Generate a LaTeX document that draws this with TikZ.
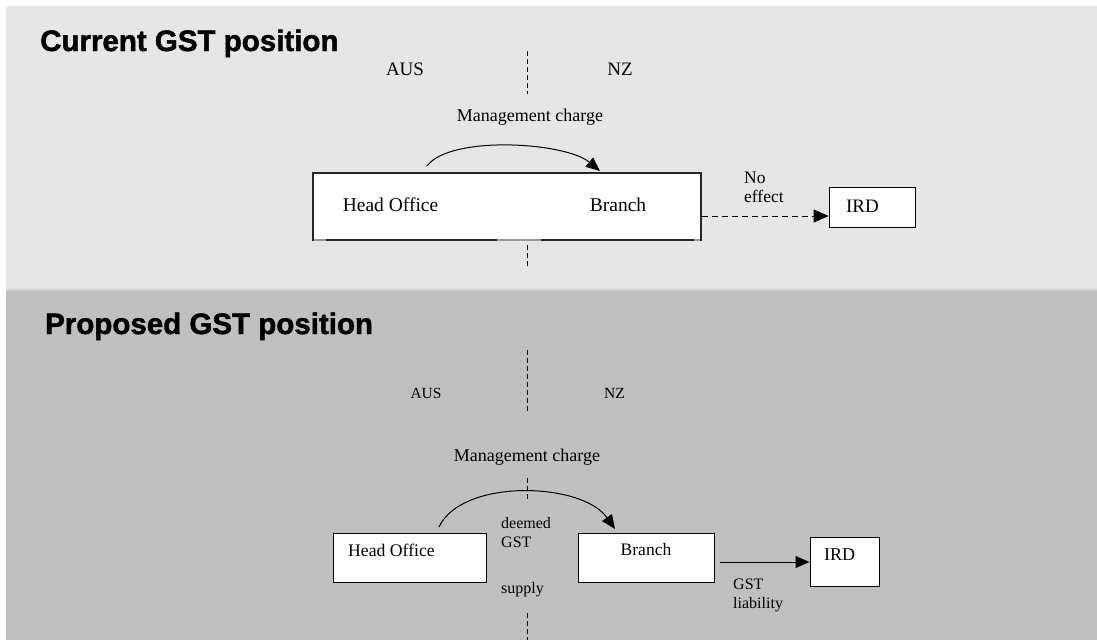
\documentclass[tikz,border=0pt]{standalone}
\usepackage{fontspec}
\setmainfont{Liberation Serif}
\newfontfamily\titlefont[BoldFeatures={FakeBold=1.6}]{Liberation Sans}
\usetikzlibrary{arrows.meta}
\definecolor{panelA}{HTML}{E6E6E6}
\definecolor{panelB}{HTML}{C0C0C0}
\definecolor{seam}{HTML}{D2D2D2}
\begin{document}
\begin{tikzpicture}[x=1pt,y=-1pt,
  txt/.style={inner sep=0pt, font=\fontsize{#1}{19}\selectfont},
  ltxt/.style={inner sep=0pt, anchor=west, align=left, font=\fontsize{#1}{19}\selectfont},
  titletxt/.style={inner sep=0pt, anchor=base west, font=\titlefont\bfseries\fontsize{29.5}{29.5}\selectfont},
  boxA/.style={draw=black!85, fill=white, line width=1.2pt, inner sep=0pt},
  boxB/.style={draw=black, fill=white, line width=1pt, inner sep=0pt},
  border/.style={line width=1pt, dash pattern=on 5pt off 3pt},
  flow/.style={line width=1pt, -{Triangle[length=14pt,width=12pt]}},
  dflow/.style={line width=1pt, dash pattern=on 6pt off 4pt, -{Triangle[length=15pt,width=13pt]}}
]
\useasboundingbox (0,0) rectangle (1097,640);
\fill[white] (0,0) rectangle (1097,640);
\fill[panelA] (6,6) rectangle (1097,290);
\fill[panelB] (6,290) rectangle (1097,640);
\draw[seam, line width=1.5pt] (6,290) -- (1097,290);

% ---------- top panel ----------
\node[titletxt] (t1) at (40,51) {Current GST position};
\node[txt=19] (aus1) at (405,69) {AUS};
\node[txt=19] (nz1) at (620,69) {NZ};
\coordinate (d1a) at (527,51); \coordinate (d1b) at (527,94);
\draw[border] (d1a) -- (d1b);
\node[txt=18] (mc1) at (530,117) {Management charge};
\node[boxA, minimum width=388pt, minimum height=67pt] (box1) at (507,206.5) {};
\draw[black!40, line width=1.2pt] (313.6,240) -- (326,240);
\draw[black!40, line width=1.2pt] (497,240) -- (541,240);
\draw[black!40, line width=1.2pt] (694,240) -- (700.4,240);
\node[txt=19.5] (ho1) at (390.5,205) {Head Office};
\node[txt=19.5] (br1) at (618,205) {Branch};
\coordinate (a1s) at (427,166); \coordinate (a1e) at (600,171);
\draw[flow] (a1s) .. controls (450,135) and (565,142) .. (a1e);
\node[boxA, line width=1pt, draw=black, minimum width=86pt, minimum height=40pt] (ird1) at (872,207) {};
\node[txt=19] (ird1t) at (862.5,206) {IRD};
\node[ltxt=17.5] (ne) at (744,187.5) {No\\effect};
\draw[dflow] (box1.east |- 0,216) -- (ird1.west |- 0,216);
\coordinate (d2a) at (527,245); \coordinate (d2b) at (527,268);
\draw[border] (d2a) -- (d2b);

% ---------- bottom panel ----------
\node[titletxt] (t2) at (45,334) {Proposed GST position};
\coordinate (d3a) at (527,350); \coordinate (d3b) at (527,413);
\draw[border] (d3a) -- (d3b);
\node[txt=15.5] (aus2) at (426,393) {AUS};
\node[txt=15.5] (nz2) at (614.5,393) {NZ};
\node[txt=18] (mc2) at (527,457) {Management charge};
\coordinate (d4a) at (527,478); \coordinate (d4b) at (527,502);
\draw[border] (d4a) -- (d4b);
\node[boxB, minimum width=153pt, minimum height=49pt] (ho2) at (409.5,557.5) {};
\node[txt=17.7] (ho2t) at (391.5,550) {Head Office};
\node[boxB, minimum width=136pt, minimum height=49pt] (br2) at (646,557.5) {};
\node[txt=17.5] (br2t) at (646,550) {Branch};
\node[boxB, minimum width=69pt, minimum height=49pt] (ird2) at (844.5,561.5) {};
\node[txt=18] (ird2t) at (839.5,555) {IRD};
\coordinate (a2s) at (439,527); \coordinate (a2e) at (615,529);
\draw[flow] (a2s) .. controls (462,478) and (582,482) .. (a2e);
\node[ltxt=16] (dg) at (501,532.5) {deemed\\GST};
\node[ltxt=16] (sup) at (501,590) {supply};
\coordinate (g0) at (720,562);
\draw[flow] (g0) -- (ird2.west |- g0);
\node[ltxt=16] (gl) at (733,595.5) {GST\\liability};
\coordinate (d5a) at (527,613); \coordinate (d5b) at (527,640);
\draw[border] (d5a) -- (d5b);
\end{tikzpicture}
\end{document}
